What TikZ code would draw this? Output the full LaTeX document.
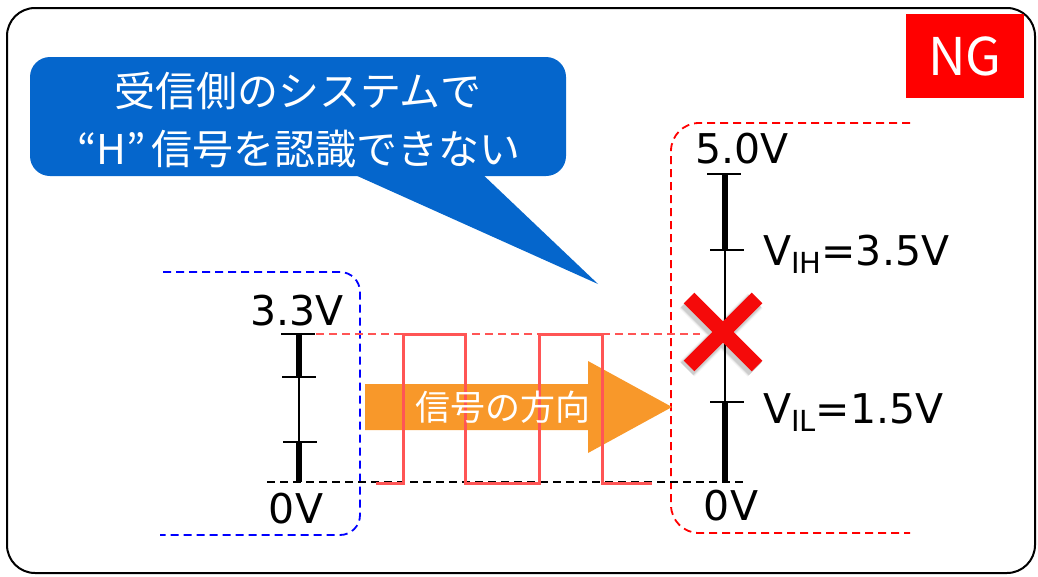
\documentclass[tikz,border=0pt]{standalone}
\usepackage{fontspec}
\setmainfont{DejaVu Sans}
\newfontfamily\jp{Noto Sans CJK JP}
\definecolor{calloutblue}{RGB}{5,102,204}
\definecolor{ngred}{RGB}{255,0,0}
\definecolor{xred}{RGB}{245,10,10}
\definecolor{wavered}{RGB}{255,85,85}
\definecolor{arroworange}{RGB}{248,152,42}
\definecolor{dashblue}{RGB}{0,0,255}
\tikzset{
  lbl/.style={inner sep=0pt, anchor=base, font=\fontsize{41}{41}\selectfont},
  cjklbl/.style={text=white, inner sep=0pt, font=\jp\fontsize{41}{41}\selectfont},
  thickbar/.style={line width=6pt},
  thinbar/.style={line width=1.3pt},
  tickline/.style={line width=1.5pt},
  dashline/.style={line width=1.8pt, dash pattern=on 8pt off 5pt},
}
\begin{document}
\begin{tikzpicture}[x=1pt,y=-1pt]
\useasboundingbox (0,0) rectangle (1038,576);
% frame
\draw[line width=2pt, rounded corners=28pt] (7,8) rectangle (1035,573);
% NG
\node[fill=ngred, minimum width=118pt, minimum height=84pt, inner sep=0pt, text=white, font=\jp\fontsize{52}{52}\selectfont] (ng) at (965,56) {NG};
% callout
\fill[calloutblue, rounded corners=20pt] (30,57) rectangle (566,176);
\fill[calloutblue] (344,170) -- (598,284) -- (478,170) -- cycle;
\node[cjklbl] (c1) at (298,91) {受信側のシステムで};
\node[cjklbl] (c2) at (299,149) {“H”\hspace{6pt}信号を認識できない};
% dashed boxes
\draw[dashblue, dashline, rounded corners=20pt] (163,272) -- (360,272) -- (360,535) -- (160,535);
\draw[ngred, dashline, rounded corners=28pt] (910,123) -- (671,123) -- (671,533) -- (910,533);
% reference dashed lines
\draw[black, dashline] (267,482) -- (747,482);
\draw[wavered, dashline] (303,334) -- (700,334);
% left scale
\draw[thickbar] (299,334) -- (299,377);
\draw[thinbar] (299,377) -- (299,442);
\draw[thickbar] (299,442) -- (299,482);
\draw[tickline] (281,334) -- (315,334);
\draw[tickline] (282,377) -- (316,377);
\draw[tickline] (283,442) -- (317,442);
\node[lbl] (l33) at (297,325) {3.3V};
\node[lbl] (l0) at (296,523) {0V};
% right scale
\draw[thickbar] (725,174) -- (725,250);
\draw[thinbar] (725,250) -- (725,402);
\draw[thickbar] (725,402) -- (725,482);
\draw[tickline] (707,174) -- (741,174);
\draw[tickline] (710,250) -- (744,250);
\draw[tickline] (710,402) -- (744,402);
\node[lbl] (r50) at (742,163) {5.0V};
\node[lbl] (r0) at (731,520) {0V};
\node[lbl, anchor=base west] (vih) at (763,265) {V\raisebox{-8pt}{\fontsize{29}{29}\selectfont IH}=3.5V};
\node[lbl, anchor=base west] (vil) at (763,423) {V\raisebox{-8pt}{\fontsize{29}{29}\selectfont IL}=1.5V};
% arrow
\fill[arroworange] (365,384) -- (588,384) -- (588,361) -- (672,407) -- (588,453) -- (588,430) -- (365,430) -- cycle;
% wave
\draw[wavered, line width=3pt] (376,483) -- (403,483) -- (403,334) -- (465,334) -- (465,483) -- (539,483) -- (539,334) -- (602,334) -- (602,483) -- (652,483);
\node[text=white, inner sep=0pt, font=\jp\fontsize{35}{35}\selectfont] (dir) at (503,407) {信号の方向};
% X mark with soft shadow
\foreach \w/\o in {21/0.05, 19/0.07, 17/0.09} {
  \draw[black, opacity=\o, line width=\w pt] (687,301) -- (755,369) (687,369) -- (755,301);
}
\draw[xred, line width=15pt] (689,298) -- (757,366) (689,366) -- (757,298);
\end{tikzpicture}
\end{document}
